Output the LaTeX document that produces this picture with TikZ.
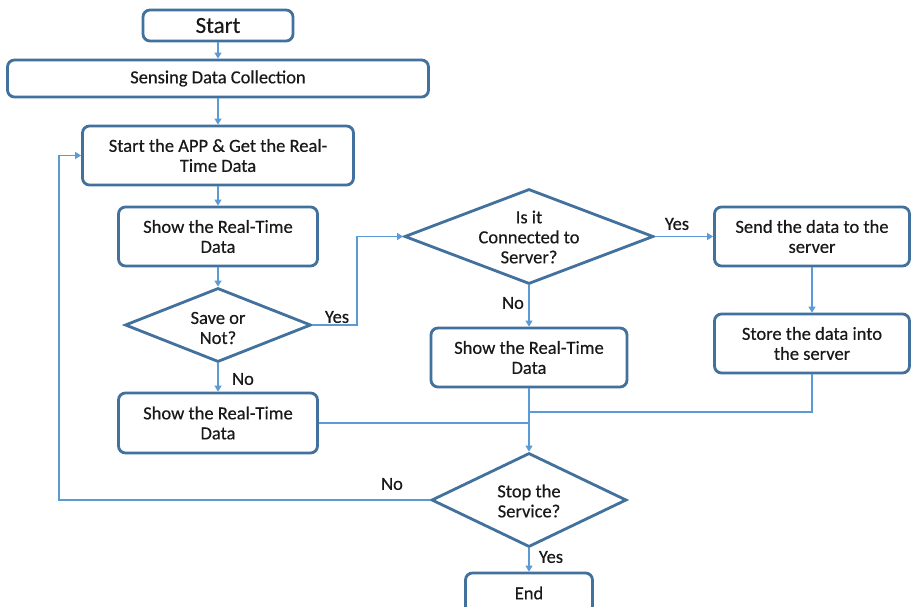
\documentclass[tikz,border=0pt]{standalone}
\usepackage{fontspec}
\setmainfont{Carlito}[FakeBold=0.4]
\usetikzlibrary{shapes.geometric,arrows.meta}
\definecolor{boxline}{HTML}{41719C}
\definecolor{flow}{HTML}{5B9BD5}
\tikzset{
  txt/.style={font=\fontsize{18.5}{20}\selectfont, align=center, text=black!90},
  box/.style={txt, draw=boxline, line width=2.8pt, rounded corners=7pt, fill=white, inner sep=0pt},
  decision/.style={draw=boxline, line width=2.8pt, diamond, fill=white, inner sep=0pt},
  lbl/.style={txt, inner sep=1pt},
  flowline/.style={draw=flow, line width=1.2pt},
  arrow/.style={flowline, -{Triangle[length=6pt,width=7pt]}},
}
\begin{document}
\begin{tikzpicture}[x=1pt,y=-1pt]
  \path[use as bounding box, clip] (0,0) rectangle (911,607);
  \fill[white] (0,0) rectangle (911,607);

  % left column
  \node[box, minimum width=150, minimum height=31, font=\fontsize{23}{24}\selectfont] (start) at (218,25.5) {Start};
  \node[box, minimum width=421, minimum height=37] (sense) at (218,78.5) {Sensing Data Collection};
  \node[box, minimum width=271, minimum height=59] (app) at (218,155.5) {Start the APP \& Get the Real-\\Time Data};
  \node[box, minimum width=199, minimum height=59] (show1) at (218,236.5) {Show the Real-Time\\Data};
  \node[decision, minimum width=186, minimum height=74] (save) at (218,325) {};
  \node[txt] (savetext) at (218,328) {Save or\\Not?};
  \node[box, minimum width=199, minimum height=60] (show2) at (218,423) {Show the Real-Time\\Data};

  % middle column
  \node[decision, minimum width=249, minimum height=95] (conn) at (529,236.5) {};
  \node[txt] (conntext) at (529,237) {Is it\\Connected to\\Server?};
  \node[box, minimum width=196, minimum height=59] (show3) at (529,357.5) {Show the Real-Time\\Data};
  \node[decision, minimum width=195, minimum height=94] (stop) at (529,500) {};
  \node[txt] (stoptext) at (529,501) {Stop the\\Service?};
  \node[box, minimum width=127, minimum height=40] (end) at (529,593) {End};

  % right column
  \node[box, minimum width=195, minimum height=59] (send) at (812,236.5) {Send the data to the\\server};
  \node[box, minimum width=195, minimum height=59] (store) at (812,343.5) {Store the data into\\the server};

  % connectors
  \draw[arrow] (start) -- (sense);
  \draw[arrow] (sense) -- (app);
  \draw[arrow] (app) -- (show1);
  \draw[arrow] (show1) -- (save);
  \draw[arrow] (save) -- (show2);
  \coordinate (yesbend) at (357,325);
  \draw[arrow] (save.east) -- (yesbend) |- (conn.west);
  \draw[arrow] (conn.east) -- (send.west);
  \draw[arrow] (conn) -- (show3);
  \draw[arrow] (send) -- (store);
  \draw[arrow] (show3) -- (stop);
  \coordinate (merge) at (529,412);
  \draw[flowline] (store.south) |- (merge);
  \draw[flowline] (show2.east) -- (show2.east -| stop.north);
  \coordinate (loop) at (59,500);
  \draw[arrow] (stop.west) -- (loop) |- (app.west);
  \draw[arrow] (stop) -- (end);

  % branch labels
  \node[lbl] (saveyes) at (337,317) {Yes};
  \node[lbl] (saveno) at (243,379) {No};
  \node[lbl] (connyes) at (677,224) {Yes};
  \node[lbl] (connno) at (513,303) {No};
  \node[lbl] (stopno) at (392,484) {No};
  \node[lbl] (stopyes) at (551,557) {Yes};
\end{tikzpicture}
\end{document}
